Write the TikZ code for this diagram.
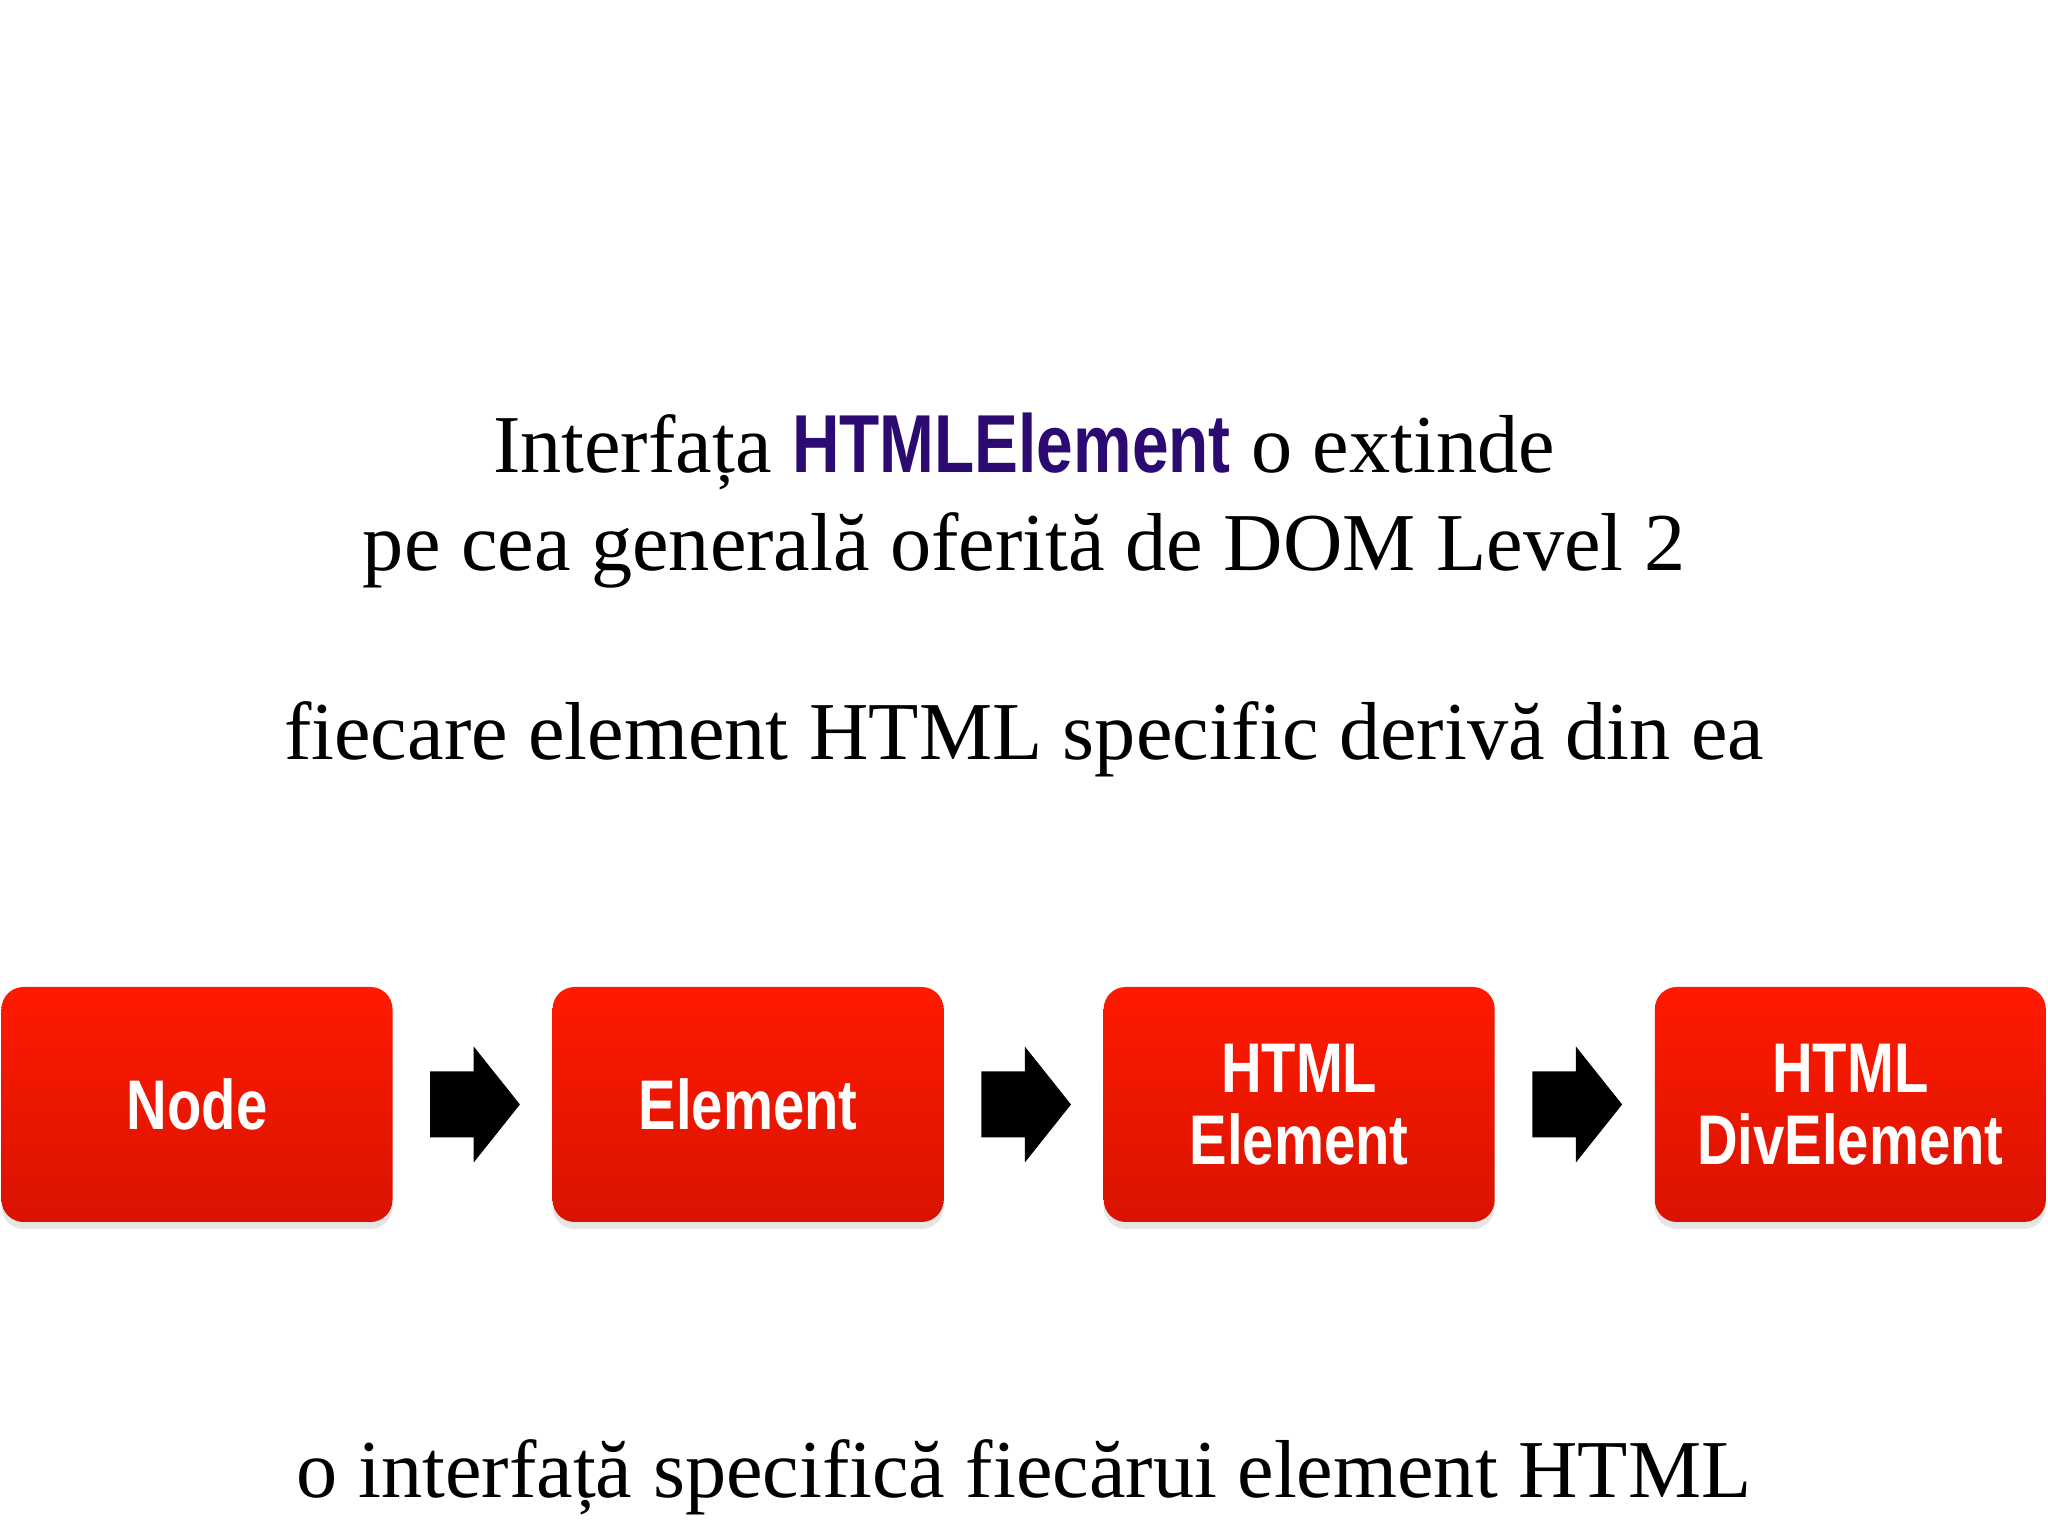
\documentclass[tikz,border=0pt]{standalone}
\usepackage{fontspec}
\setmainfont{Liberation Serif}
\newfontfamily\narrowsans{Liberation Sans}[FakeStretch=0.8]
\usetikzlibrary{positioning,calc,shadows}

\definecolor{boxtop}{HTML}{FF1A00}
\definecolor{boxbottom}{HTML}{D91300}
\definecolor{ifacepurple}{HTML}{2B0A72}

\tikzset{
  classbox/.style={rounded corners=0.22cm, minimum width=3.91cm, minimum height=2.35cm,
    top color=boxtop, bottom color=boxbottom, text=white, align=center,
    font=\narrowsans\bfseries\fontsize{20}{20.5}\selectfont,
    drop shadow={shadow xshift=0pt, shadow yshift=-2pt, opacity=0.2}},
  slidetext/.style={anchor=base, font=\fontsize{23.4}{28}\selectfont},
}

\begin{document}
\begin{tikzpicture}
  \useasboundingbox (0,0) rectangle (20.48,15.36);

  % texts
  \node[slidetext] (title1) at (10.24,10.63) {Interfața {\narrowsans\bfseries\color{ifacepurple}HTMLElement} o extinde};
  \node[slidetext] (title2) at (10.24,9.65) {pe cea generală oferită de DOM Level 2};
  \node[slidetext] (derive) at (10.24,7.76) {fiecare element HTML specific derivă din ea};
  \node[slidetext] (specific) at (10.24,0.38) {o interfață specifică fiecărui element HTML};

  % interface chain
  \node[classbox] (nodeif) at (1.97,4.315) {Node};
  \node[classbox, right=1.587cm of nodeif] (elementif) {Element};
  \node[classbox, right=1.587cm of elementif] (htmlif) {HTML\\Element};
  \node[classbox, right=1.587cm of htmlif] (divif) {HTML\\DivElement};

  \foreach \from/\to in {nodeif/elementif, elementif/htmlif, htmlif/divif}
    \fill ($(\from.east)+(0.37,0.33)$) -- ($(\from.east)+(0.805,0.33)$)
      -- ($(\from.east)+(0.805,0.58)$) -- ($(\to.west)+(-0.32,0)$)
      -- ($(\from.east)+(0.805,-0.58)$) -- ($(\from.east)+(0.805,-0.33)$)
      -- ($(\from.east)+(0.37,-0.33)$) -- cycle;

\end{tikzpicture}
\end{document}
